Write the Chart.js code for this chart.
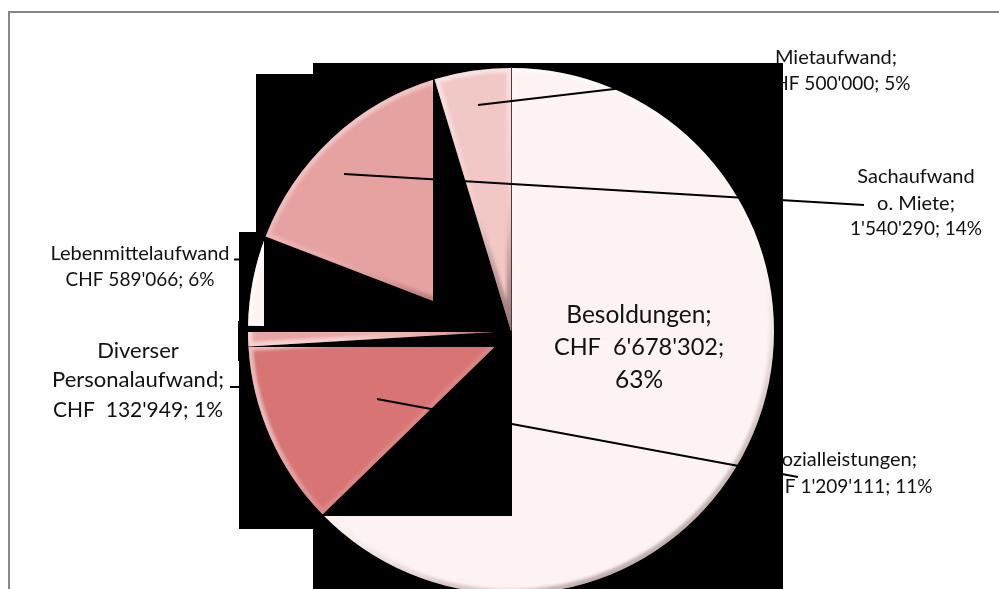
<!DOCTYPE html>
<html>
<head>
<meta charset="utf-8">
<title>Aufwand</title>
<script src="https://cdn.jsdelivr.net/npm/chart.js@4"></script>
<style>
html, body { margin: 0; padding: 0; background: #fff; width: 999px; height: 589px; overflow: hidden; }
canvas { display: block; }
</style>
</head>
<body>
<canvas id="aufwandChart" width="999" height="600"></canvas>
<script>
// data, clockwise from the top
const categories = ['Besoldungen', 'Sozialleistungen', 'Diverser Personalaufwand', 'Lebenmittelaufwand', 'Sachaufwand o. Miete', 'Mietaufwand'];
const amounts = [6678302, 1209111, 132949, 589066, 1540290, 500000];
const sliceColors = ['#FDF3F2', '#D87474', '#E9A5A3', '#FDF3F2', '#E6A2A0', '#F2C8C7'];

const labelFont = '20px Lato';
const amountFont = '19px Lato';
const bigFont = '24.5px Lato';
const bigAmountFont = '23.5px Lato';
const midFont = '22px Lato';

// text, center x, baseline y, font
const labelTexts = [
	['Mietaufwand;', 836, 64, labelFont],
	["CHF 500'000; 5%", 836, 90, amountFont],
	['Sachaufwand', 916, 183, labelFont],
	['o. Miete;', 916, 210, labelFont],
	["1'540'290; 14%", 916, 235, amountFont],
	['Sozialleistungen;', 844, 466, labelFont],
	["CHF 1'209'111; 11%", 845, 493, amountFont],
	['Lebenmittelaufwand', 140, 260, labelFont],
	["CHF 589'066; 6%", 140, 286, amountFont],
	['Diverser', 138, 358, midFont],
	['Personalaufwand;', 138, 387, midFont],
	["CHF  132'949; 1%", 138, 417, '21px Lato'],
];
const innerTexts = [
	['Besoldungen;', 639, 323, bigFont],
	["CHF  6'678'302;", 639, 355, bigAmountFont],
	['63%', 639, 388, bigFont],
];

// leftover black boxes behind the slices: x0, y0, x1, y1
const shadowBoxes = [
	[256, 74, 433, 232],
	[239, 232, 300, 321],
	[238, 321, 300, 361],
	[239, 361, 313, 529],
];
// black box around each slice, same order as the data, last one on top
const sliceBoxes = [
	[313, 63, 783, 600],
	[248, 347, 512, 516],
	[248, 332, 512, 347],
	[248, 237, 512, 332],
	[264, 74, 511, 331],
	[433, 67, 511, 331],
];
const leaderLines = [
	[478, 105, 776, 70],
	[344, 174, 864, 205],
	[377, 399, 798, 477],
	[234, 259.5, 239, 259.5],
	[230, 387, 239, 387],
];

function drawTexts(ctx, list) {
	ctx.fillStyle = '#111';
	ctx.textAlign = 'center';
	ctx.textBaseline = 'alphabetic';
	list.forEach((t) => {
		ctx.font = t[3];
		ctx.fillText(t[0], t[1], t[2]);
	});
}

function bevel(ctx, arc, box) {
	const props = arc.getProps(['x', 'y', 'startAngle', 'endAngle', 'outerRadius'], true);
	const path = new Path2D();
	path.moveTo(props.x, props.y);
	path.arc(props.x, props.y, props.outerRadius, props.startAngle, props.endAngle);
	path.closePath();
	const grad = ctx.createLinearGradient(box[0] + (box[2] - box[0]) * 0.35, box[1], box[2], box[3]);
	grad.addColorStop(0, 'rgba(255,255,255,0.5)');
	grad.addColorStop(0.5, 'rgba(255,255,255,0.08)');
	grad.addColorStop(0.7, 'rgba(80,50,50,0.2)');
	grad.addColorStop(1, 'rgba(70,45,45,0.55)');
	ctx.save();
	ctx.clip(path);
	ctx.filter = 'blur(1.5px)';
	ctx.strokeStyle = grad;
	ctx.lineWidth = 9;
	ctx.stroke(path);
	ctx.restore();
}

const brokenPie = {
	id: 'brokenPie',
	beforeDatasetsDraw(chart) {
		const ctx = chart.ctx;
		ctx.save();
		ctx.fillStyle = '#fff';
		ctx.fillRect(0, 0, 999, 600);

		// frame, only top and left survive
		ctx.fillStyle = '#868686';
		ctx.fillRect(8, 11, 991, 2);
		ctx.fillRect(8, 11, 2, 589);

		drawTexts(ctx, labelTexts);

		ctx.fillStyle = '#000';
		shadowBoxes.forEach((b) => ctx.fillRect(b[0], b[1], b[2] - b[0], b[3] - b[1]));

		const arcs = chart.getDatasetMeta(0).data;
		arcs.forEach((arc, i) => {
			const b = sliceBoxes[i];
			ctx.save();
			ctx.beginPath();
			ctx.rect(b[0], b[1], b[2] - b[0], b[3] - b[1]);
			ctx.clip();
			ctx.fillStyle = '#000';
			ctx.fillRect(b[0], b[1], b[2] - b[0], b[3] - b[1]);
			arc.draw(ctx);
			bevel(ctx, arc, b);
			ctx.restore();
		});

		// dark seam between Mietaufwand and Besoldungen
		ctx.fillStyle = '#4a3a3a';
		ctx.fillRect(511, 67, 1, 264);

		ctx.strokeStyle = '#000';
		ctx.lineWidth = 2;
		leaderLines.forEach((l) => {
			ctx.beginPath();
			ctx.moveTo(l[0], l[1]);
			ctx.lineTo(l[2], l[3]);
			ctx.stroke();
		});

		drawTexts(ctx, innerTexts);
		ctx.restore();
		return false;
	}
};

new Chart(document.getElementById('aufwandChart').getContext('2d'), {
	type: 'pie',
	data: {
		labels: categories,
		datasets: [{
			data: amounts,
			backgroundColor: sliceColors,
			borderWidth: 0
		}]
	},
	options: {
		responsive: false,
		animation: false,
		layout: { padding: { left: 248, right: 225, top: 68, bottom: 6 } },
		plugins: {
			legend: { display: false },
			tooltip: { enabled: false }
		}
	},
	plugins: [brokenPie]
});
</script>
</body>
</html>
